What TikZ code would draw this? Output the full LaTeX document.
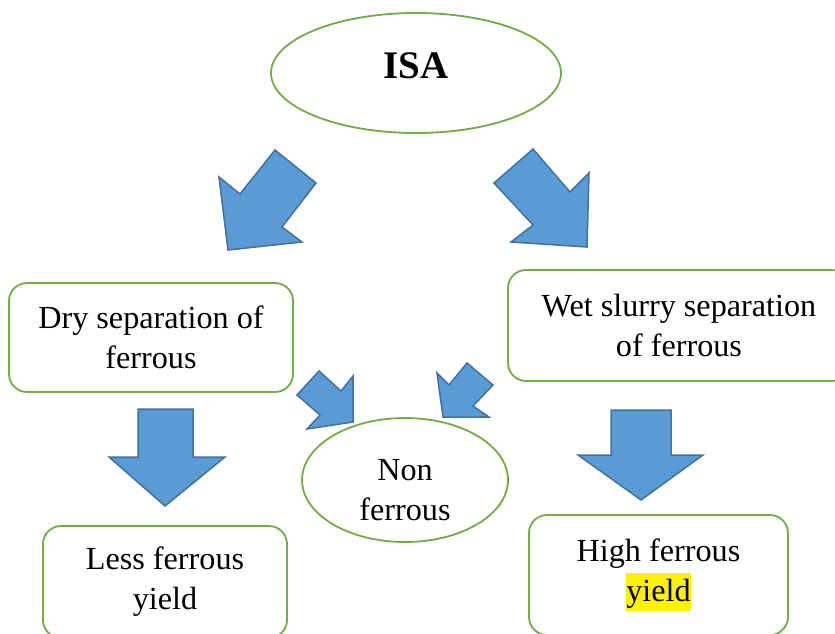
\documentclass[tikz,border=0pt]{standalone}
\usepackage{fontspec}
\setmainfont{Liberation Serif}
\usetikzlibrary{shapes.geometric}

\definecolor{boxgreen}{HTML}{70AD47}
\definecolor{arrowfill}{HTML}{5B9BD5}
\definecolor{arrowline}{HTML}{41719C}

\tikzset{
    stagebox/.style={draw=boxgreen, line width=1.8pt, rounded corners=18pt, align=center,
        font=\fontsize{32.2}{40}\selectfont, inner sep=0pt},
    stageoval/.style={draw=boxgreen, line width=1.8pt, ellipse, align=center, inner sep=0pt},
    blockarrow/.style={draw=arrowline, fill=arrowfill, line width=1.5pt, line join=miter}
}

\newcommand{\hilite}[1]{{\setlength{\fboxsep}{0pt}\colorbox{yellow}{\rule[-10pt]{0pt}{38pt}#1}}}

\begin{document}
\begin{tikzpicture}[x=1pt, y=-1pt]

\useasboundingbox (0,0) rectangle (835,633);
\clip (0,0) rectangle (835,633);

% Top: source ellipse
\node[stageoval, minimum width=290pt, minimum height=120pt, text depth=14pt,
      font=\fontsize{39}{40}\selectfont\bfseries] (isa) at (416,73) {ISA};

% Middle: the two separation routes
\node[stagebox, minimum width=284pt, minimum height=109pt] (dry) at (151,337.5)
    {Dry separation of\\ferrous};
\node[stagebox, minimum width=342pt, minimum height=111pt] (wet) at (679,325.5)
    {Wet slurry separation\\of ferrous};

% Centre: non ferrous ellipse
\node[stageoval, minimum width=206pt, minimum height=124pt, text height=81pt,
      font=\fontsize{32.2}{40}\selectfont] (nonfe) at (405,480) {Non\\ferrous};

% Bottom: yields
\node[stagebox, minimum width=244pt, minimum height=112pt] (less) at (165,582)
    {Less ferrous\\yield};
\node[stagebox, minimum width=259pt, minimum height=120pt] (high) at (658.5,575)
    {High ferrous\\\hilite{yield}};

% Block arrows from ISA
\draw[blockarrow] (275,150) -- (316,183) -- (282,227) -- (302,242) -- (228,250) -- (219,177) -- (240,194) -- cycle;
\draw[blockarrow] (533,149) -- (570,192) -- (589,173) -- (587,247) -- (511,242) -- (533,225) -- (494,183) -- cycle;

% Down arrows to the yields
\draw[blockarrow] (138,409) -- (193,409) -- (193,457) -- (225,457) -- (165,506) -- (109,457) -- (138,457) -- cycle;
\draw[blockarrow] (611,410) -- (671,410) -- (671,455) -- (703,455) -- (641,500) -- (578,455) -- (611,455) -- cycle;

% Small arrows into non ferrous
\draw[blockarrow] (297,395) -- (319,371) -- (341,391) -- (353,376) -- (353,422) -- (307,429) -- (320,415) -- cycle;
\draw[blockarrow] (467,363) -- (493,385) -- (473,406) -- (489,417) -- (443,417) -- (437,373) -- (449,385) -- cycle;

\end{tikzpicture}
\end{document}
